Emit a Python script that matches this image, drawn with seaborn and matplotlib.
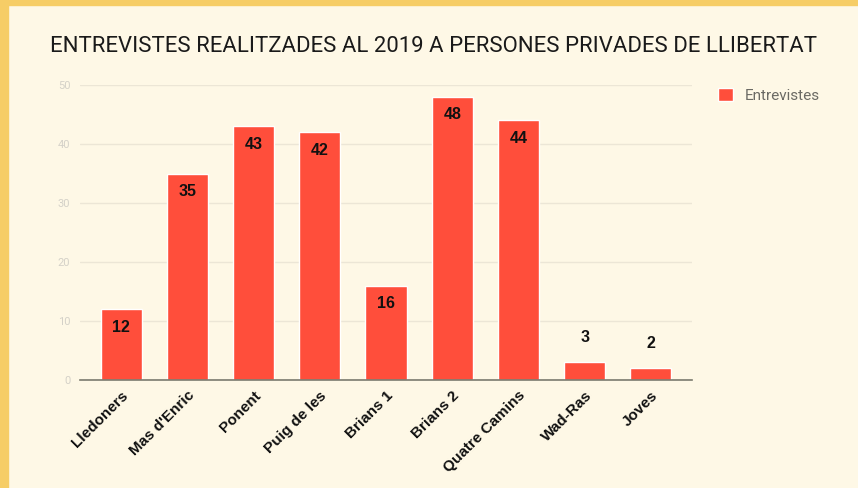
import matplotlib
matplotlib.use("Agg")
import matplotlib.pyplot as plt
import seaborn as sns
from matplotlib.patches import Rectangle

centres = ["Lledoners", "Mas d'Enric", "Ponent", "Puig de les", "Brians 1",
           "Brians 2", "Quatre Camins", "Wad-Ras", "Joves"]
entrevistes = [12, 35, 43, 42, 16, 48, 44, 3, 2]
yticks = [0, 10, 20, 30, 40, 50]

BG = "#fef8e6"
BORDER = "#f6cd66"
RED = "#ff4e3b"

sns.set_style("white")
plt.rcParams["font.family"] = ["Roboto", "DejaVu Sans"]

fig = plt.figure(figsize=(8.58, 4.88), dpi=100, facecolor=BG)
# yellow frame on the left and top
fig.patches.append(Rectangle((0, 0), 8 / 858, 1, transform=fig.transFigure,
                             color=BORDER, zorder=0))
fig.patches.append(Rectangle((0, 1 - 5 / 488), 1, 5 / 488, transform=fig.transFigure,
                             color=BORDER, zorder=0))

ax = fig.add_axes([80 / 858, 1 - 380 / 488, 612 / 858, 295 / 488])
ax.set_facecolor(BG)

sns.barplot(x=centres, y=entrevistes, color=RED, width=0.62, saturation=1,
            label="Entrevistes", ax=ax, zorder=3)

ax.set_ylim(0, 50)
ax.set_xlim(-0.62, len(centres) - 0.38)
ax.set_yticks(yticks)
ax.grid(axis="y", color="#ece6d6", linewidth=1, zorder=0)
for s in ["top", "right", "left"]:
    ax.spines[s].set_visible(False)
ax.spines["bottom"].set_color("#7a7a6e")
ax.spines["bottom"].set_linewidth(1.2)
ax.spines["bottom"].set_zorder(4)
ax.tick_params(axis="y", length=0, colors="#d4d1c8", labelsize=8, pad=7)
ax.tick_params(axis="x", length=0, pad=6)
ax.set_xlabel("")
ax.set_ylabel("")

for lab in ax.get_xticklabels():
    lab.set_rotation(45)
    lab.set_ha("right")
    lab.set_rotation_mode("anchor")
    lab.set_fontfamily("Liberation Sans")
    lab.set_fontweight("bold")
    lab.set_fontsize(11)
    lab.set_color("#111111")

for patch, v in zip(ax.patches, entrevistes):
    xc = patch.get_x() + patch.get_width() / 2
    off = -13 if v >= 10 else 18
    ax.annotate(str(v), (xc, v), xytext=(0, off), textcoords="offset points",
                ha="center", va="center", fontsize=11.5, fontweight="bold",
                family="Liberation Sans", color="#111111", zorder=5)

fig.text(50 / 858, 1 - 47 / 488,
         "ENTREVISTES REALITZADES AL 2019 A PERSONES PRIVADES DE LLIBERTAT",
         ha="left", va="center", fontsize=15.9, color="#1a1a1a")

ax.legend(loc="upper left", bbox_to_anchor=(704 / 858, 1 - 74 / 488),
          bbox_transform=fig.transFigure, frameon=False, fontsize=11,
          labelcolor="#6b6a64", handlelength=1.0, handleheight=1.0,
          handletextpad=0.8)

fig.savefig("out.png", dpi=100, facecolor=BG)
